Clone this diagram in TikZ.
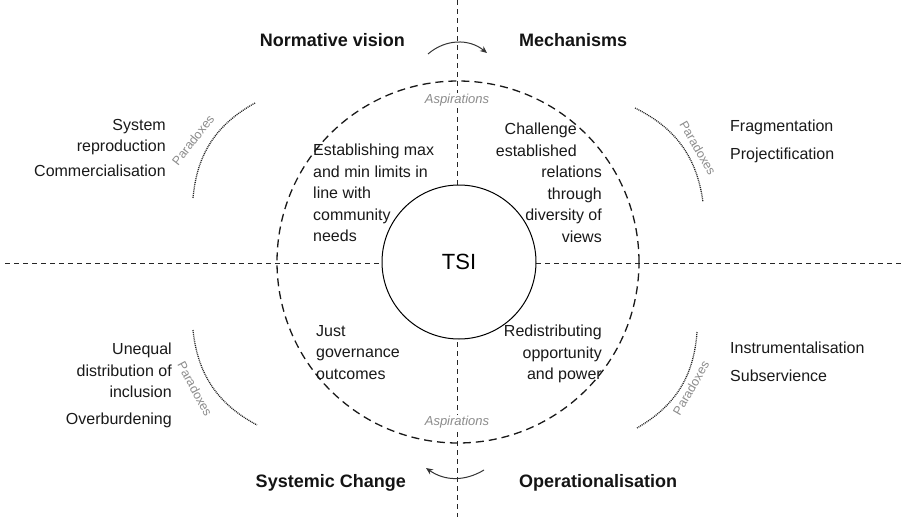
\documentclass[tikz,border=0pt]{standalone}
\usepackage{fontspec}
\setmainfont{Liberation Sans}
\usetikzlibrary{arrows.meta}
\begin{document}
\begin{tikzpicture}[x=1pt,y=-1pt,
  guide/.style={dash pattern=on 5pt off 4pt, line width=0.8pt, draw=black!85},
  ring/.style={dash pattern=on 8pt off 5pt, line width=1.3pt, draw=black!90},
  paradox/.style={dash pattern=on 1pt off 0.9pt, line width=1.3pt, draw=black!85},
  heading/.style={font=\fontsize{18}{21}\selectfont\bfseries, inner sep=0pt, text=black!92},
  body/.style={font=\fontsize{16}{21.5}\selectfont, inner sep=0pt, text=black!90},
  faint/.style={font=\fontsize{13}{15}\selectfont\itshape, text=black!45, inner sep=1pt},
  plabel/.style={font=\fontsize{12.5}{15}\selectfont, text=black!45, inner sep=0pt},
  flow/.style={-{Stealth[length=7pt,width=6pt]}, line width=1pt, draw=black!80},
]
\useasboundingbox (0,0) rectangle (906,517);

% quadrant guides
\coordinate (vtop) at (457,0);
\coordinate (vbot) at (457,517);
\coordinate (hl) at (5,263);
\coordinate (hr) at (901,263);
\draw[guide] (vtop) -- (vbot);
\draw[guide] (hl) -- (hr);

% aspirations ring
\draw[ring] (458,262) circle[radius=181pt];

% centre
\node[circle, draw, fill=white, line width=1pt, minimum size=154pt, inner sep=0pt,
      font=\fontsize{22}{26}\selectfont] (tsi) at (459,262) {TSI};

\node[faint, fill=white] (asp1) at (457,100) {Aspirations};
\node[faint, fill=white] (asp2) at (457,422) {Aspirations};

% quadrant headings
\node[heading, anchor=base east] (norm) at (405,46) {Normative vision};
\node[heading, anchor=base west] (mech) at (519,46) {Mechanisms};
\node[heading, anchor=base east] (sysc) at (406,487) {Systemic Change};
\node[heading, anchor=base west] (oper) at (519,487) {Operationalisation};

% turning arrows
\coordinate (ta) at (428,54);
\coordinate (tb) at (487,53);
\coordinate (ba) at (484,470);
\coordinate (bb) at (426,468);
\draw[flow] (ta) to[bend left=40] (tb);
\draw[flow] (ba) to[bend left=33] (bb);

% aspirations inside the ring
\node[body, anchor=north west, align=left] (tl) at (313,144)
  {Establishing max\\and min limits in\\line with\\community\\needs};
\node[body, anchor=north east, align=right] (tr1) at (577,123)
  {Challenge\\established};
\node[body, anchor=north east, align=right] (tr2) at (602,166)
  {relations\\through\\diversity of\\views};
\node[body, anchor=north west, align=left] (bl) at (316,325)
  {Just\\governance\\outcomes};
\node[body, anchor=north east, align=right] (br) at (602,325)
  {Redistributing\\opportunity\\and power};

% paradox arcs
\coordinate (p1a) at (255,103); \coordinate (p1b) at (193,198);
\coordinate (p2a) at (635,108); \coordinate (p2b) at (703,202);
\coordinate (p3a) at (193,330); \coordinate (p3b) at (257,425);
\coordinate (p4a) at (697,332); \coordinate (p4b) at (637,428);
\draw[paradox] (p1a) to[bend right=28] (p1b);
\draw[paradox] (p2a) to[bend left=28] (p2b);
\draw[paradox] (p3a) to[bend right=28] (p3b);
\draw[paradox] (p4a) to[bend left=28] (p4b);

\node[plabel, rotate=52] (pl1) at (193,140) {Paradoxes};
\node[plabel, rotate=-60] (pl2) at (698,148) {Paradoxes};
\node[plabel, rotate=-62] (pl3) at (195,389) {Paradoxes};
\node[plabel, rotate=60] (pl4) at (691,388) {Paradoxes};

% paradoxes outside the ring
\node[body, anchor=north east, align=right] (otl) at (166,119)
  {System\\reproduction\\[3pt]Commercialisation};
\node[body, anchor=north west, align=left] (otr) at (730,120)
  {Fragmentation\\[6.5pt]Projectification};
\node[body, anchor=north east, align=right] (obl) at (172,343)
  {Unequal\\distribution of\\inclusion\\[5.5pt]Overburdening};
\node[body, anchor=north west, align=left] (obr) at (730,342)
  {Instrumentalisation\\[6.5pt]Subservience};
\end{tikzpicture}
\end{document}
